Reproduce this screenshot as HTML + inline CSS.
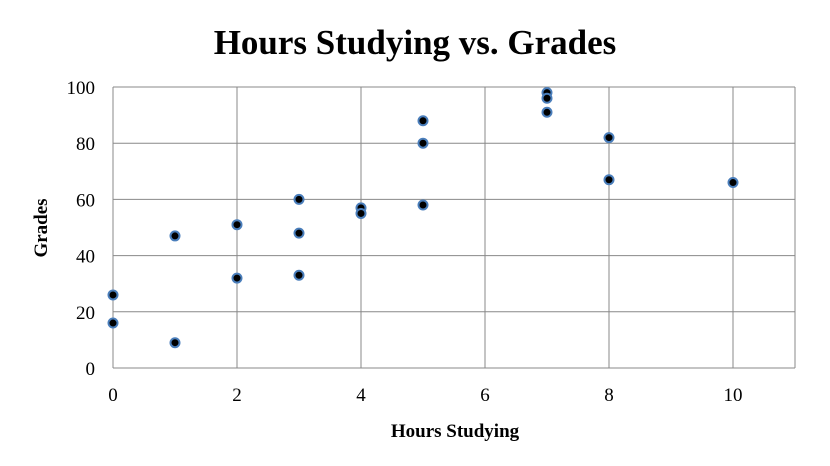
<!DOCTYPE html>
<html><head><meta charset="utf-8"><style>
body{margin:0;background:#fff;}
svg{display:block;font-family:"Liberation Serif",serif;}
</style></head><body>
<svg id="chart" width="830" height="466">
<text x="415" y="54" text-anchor="middle" font-size="35" font-weight="bold" fill="#000">Hours Studying vs. Grades</text>
<g id="grid"></g><g id="pts"></g>
<text x="455" y="437" text-anchor="middle" font-size="19" font-weight="bold">Hours Studying</text>
<text transform="translate(47,228) rotate(-90)" text-anchor="middle" font-size="19" font-weight="bold">Grades</text>
</svg>
<script>
const xs=[0,0,1,1,2,2,3,3,3,4,4,5,5,5,7,7,7,8,8,10];
const ys=[26,16,47,9,51,32,60,48,33,57,55,88,80,58,98,96,91,82,67,66];
const xTicks=[0,2,4,6,8,10];
const yTicks=[0,20,40,60,80,100];
const X=v=>113+v*62, Y=v=>368-v*2.81;
const NS="http://www.w3.org/2000/svg";
const g=document.getElementById('grid'),p=document.getElementById('pts');
function mk(par,tag,a){const e=document.createElementNS(NS,tag);for(const k in a)e.setAttribute(k,a[k]);par.appendChild(e);return e;}
yTicks.forEach(t=>{
 const l=mk(g,'line',{x1:X(0),x2:X(11),y1:Y(t),y2:Y(t),stroke:'#888','stroke-width':1});
 
 
 const tx=mk(g,'text',{x:95,y:Y(t)+7,'text-anchor':'end','font-size':19});tx.textContent=t;
 
 
});
xTicks.forEach(t=>{
 const l=mk(g,'line',{x1:X(t),x2:X(t),y1:Y(100),y2:Y(0),stroke:'#888','stroke-width':1});
 
 
 const tx=mk(g,'text',{x:X(t),y:401,'text-anchor':'middle','font-size':19});tx.textContent=t;
 
 
});
const rl=mk(g,'line',{x1:X(11),x2:X(11),y1:Y(100),y2:Y(0),stroke:'#888','stroke-width':1});


xs.forEach((x,i)=>{
 const c=mk(p,'circle',{cx:X(x),cy:Y(ys[i]),r:4.5,fill:'#000',stroke:'#4a7ebb','stroke-width':2});
 
 
});
</script>
</body></html>
